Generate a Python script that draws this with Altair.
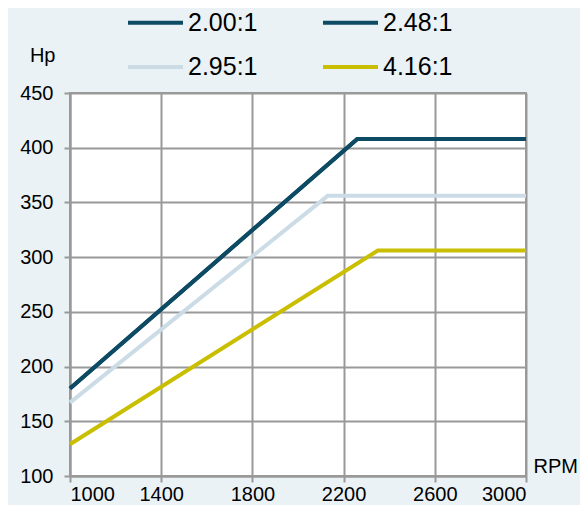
import altair as alt
import pandas as pd

series = ["2.00:1", "2.48:1", "2.95:1", "4.16:1"]
rpm_200 = [1000, 2260, 3000]
hp_200 = [180, 408, 408]
rpm_248 = [1000, 2260, 3000]
hp_248 = [180, 408, 408]
rpm_295 = [1000, 2130, 3000]
hp_295 = [167, 356, 356]
rpm_416 = [1000, 2350, 3000]
hp_416 = [129, 306, 306]

x_ticks = [1000, 1400, 1800, 2200, 2600, 3000]
y_ticks = [100, 150, 200, 250, 300, 350, 400, 450]

colors = ["#0D4A63", "#0D4A63", "#CCDCE7", "#C9BE00"]
widths = [4, 4, 5.5, 5.5]

rows = []
for s, xs, ys in zip(series, [rpm_200, rpm_248, rpm_295, rpm_416],
                     [hp_200, hp_248, hp_295, hp_416]):
    for i, (x, y) in enumerate(zip(xs, ys)):
        rows.append({"series": s, "rpm": x, "hp": y, "order": i})
df = pd.DataFrame(rows)

FONT = "Liberation Sans"
GRID = "#999999"

legend = alt.Legend(
    title=None, orient="none", legendX=56, legendY=-100, columns=2,
    direction="horizontal",
    symbolType="stroke", symbolSize=3025, labelFontSize=25, labelFont=FONT,
    labelColor="black", labelOffset=3, columnPadding=57, rowPadding=1.5,
    padding=0, labelLimit=300,
)

chart = alt.Chart(df).mark_line(strokeJoin="miter", strokeCap="butt").encode(
    x=alt.X("rpm:Q", scale=alt.Scale(domain=[1000, 3000], nice=False),
            axis=alt.Axis(values=x_ticks, format="d", title="RPM", titleX=463, titleY=-4,
                          titleAlign="left", titleBaseline="alphabetic",
                          titleAngle=0, labelPadding=2)),
    y=alt.Y("hp:Q", scale=alt.Scale(domain=[100, 450], nice=False),
            axis=alt.Axis(values=y_ticks, format="d", title="Hp", titleX=-15, titleY=-32,
                          titleAlign="right", titleBaseline="alphabetic",
                          titleAngle=0, labelPadding=11)),
    color=alt.Color("series:N", scale=alt.Scale(domain=series, range=colors),
                    legend=legend),
    strokeWidth=alt.StrokeWidth("series:N", scale=alt.Scale(domain=series, range=widths),
                                legend=legend),
    detail="series:N",
    order="order:Q",
).properties(
    width=456, height=383,
    autosize=alt.AutoSizeParams(type="none"),
    padding={"left": 62, "top": 85, "right": 54, "bottom": 29},
    background="#EAF2F5",
).configure_view(
    stroke=GRID, strokeWidth=2, fill="white"
).configure_axis(
    labelFont=FONT, labelFontSize=20, labelColor="black",
    titleFont=FONT, titleFontSize=20, titleFontWeight="normal", titleColor="black",
    tickColor=GRID, tickSize=6, tickWidth=2,
    domainColor=GRID, domainWidth=2,
    gridColor=GRID, gridWidth=2, gridOpacity=1,
)

chart.save("out.html", embed_options={"renderer": "svg", "actions": False})
